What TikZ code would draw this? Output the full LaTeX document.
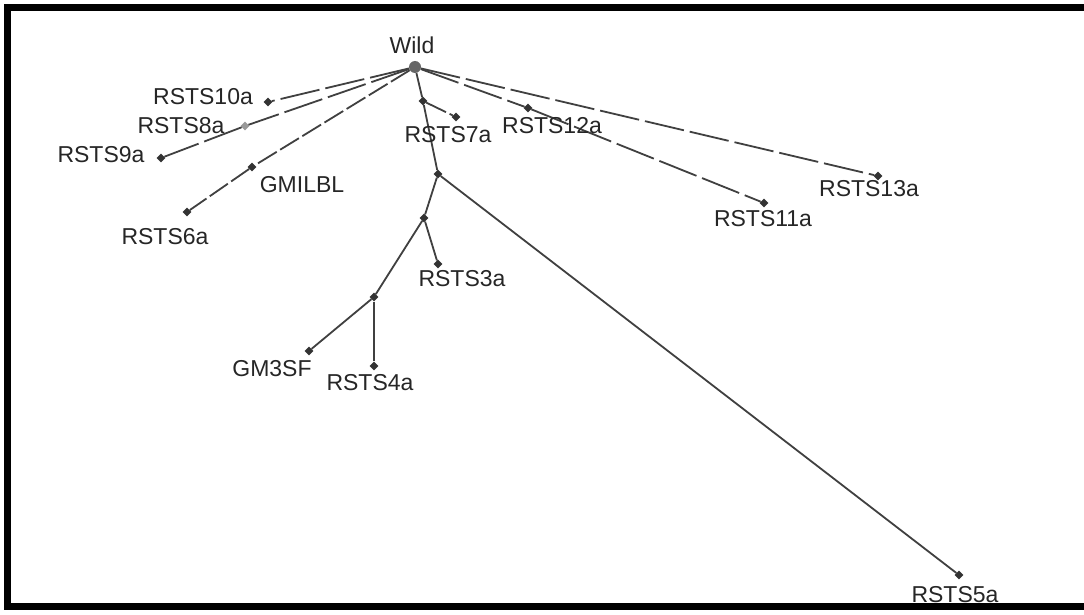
\documentclass[tikz,border=0pt]{standalone}
\usepackage{fontspec}
\setmainfont{Liberation Sans}
\usetikzlibrary{shapes.geometric}
\begin{document}
\begin{tikzpicture}[x=1pt,y=-1pt,
  dot/.style={diamond,fill=black!80,inner sep=0pt,minimum size=9pt},
  lightdot/.style={diamond,fill=black!40,inner sep=0pt,minimum size=9pt},
  rootdot/.style={circle,fill=black!60,inner sep=0pt,minimum size=12pt},
  lbl/.style={inner sep=0pt,text=black!85,font=\fontsize{23}{25}\selectfont},
  edge/.style={draw=black!75,line width=1.8pt},
  dedge/.style={edge,dash pattern=on 40pt off 6pt},
  sdedge/.style={edge,dash pattern=on 22pt off 4pt}]
\useasboundingbox (0,0) rectangle (1084,615);
\fill[white] (0,0) rectangle (1084,615);
\fill[black] (4,4) rectangle (1084,11);
\fill[black] (4,4) rectangle (11,610);
\fill[black] (4,603) rectangle (1084,610);
% tree nodes
\node[rootdot] (wild) at (415,67) {};
\node[dot] (r10) at (268,102) {};
\node[lightdot] (r8) at (245,126) {};
\node[dot] (r9) at (161,158) {};
\node[dot] (gmi) at (252,167) {};
\node[dot] (r6) at (187,212) {};
\node[dot] (a) at (423,101) {};
\node[dot] (r7) at (456,117) {};
\node[dot] (b) at (438,174) {};
\node[dot] (r5) at (959,575) {};
\node[dot] (c) at (424,218) {};
\node[dot] (r3) at (438,264) {};
\node[dot] (d) at (374,297) {};
\node[dot] (gm3) at (309,351) {};
\node[dot] (r4) at (374,366) {};
\node[dot] (r12) at (528,108) {};
\node[dot] (r11) at (764,203) {};
\node[dot] (r13) at (878,176) {};
% edges
\draw[dedge] (wild) -- (r10);
\draw[dedge] (wild) -- (r8);
\draw[dedge] (r8) -- (r9);
\draw[sdedge] (wild) -- (gmi);
\draw[sdedge] (gmi) -- (r6);
\draw[edge] (wild) -- (a);
\draw[sdedge] (a) -- (r7);
\draw[edge] (a) -- (b);
\draw[edge] (b) -- (r5);
\draw[edge] (b) -- (c);
\draw[edge] (c) -- (r3);
\draw[edge] (c) -- (d);
\draw[edge] (d) -- (gm3);
\draw[edge] (d) -- (r4);
\draw[dedge] (wild) -- (r12);
\draw[dedge] (r12) -- (r11);
\draw[dedge] (wild) -- (r13);
% labels
\node[lbl] (lwild) at (412,45) {Wild};
\node[lbl] (l10) at (203,97) {RSTS10a};
\node[lbl] (l8) at (181,126) {RSTS8a};
\node[lbl] (l9) at (101,155) {RSTS9a};
\node[lbl] (lgmi) at (302,185) {GMILBL};
\node[lbl] (l6) at (165,237) {RSTS6a};
\node[lbl] (l7) at (448,135) {RSTS7a};
\node[lbl] (l12) at (552,126) {RSTS12a};
\node[lbl] (l13) at (869,189) {RSTS13a};
\node[lbl] (l11) at (763,219) {RSTS11a};
\node[lbl] (l3) at (462,279) {RSTS3a};
\node[lbl] (lgm3) at (272,369) {GM3SF};
\node[lbl] (l4) at (370,383) {RSTS4a};
\node[lbl] (l5) at (955,595) {RSTS5a};
\end{tikzpicture}
\end{document}
